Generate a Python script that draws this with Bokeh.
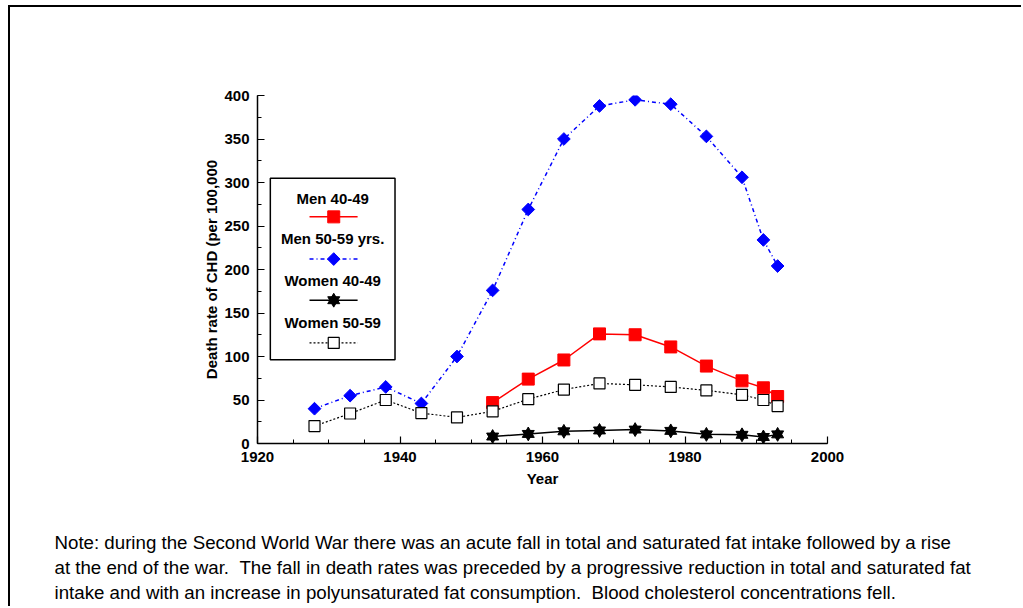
import math
from bokeh.plotting import figure
from bokeh.models import Range1d, SingleIntervalTicker, Title
from bokeh.core.properties import value
from bokeh.embed import file_html
from bokeh.resources import INLINE

# ---- data ----
years_all = [1928, 1933, 1938, 1943, 1948, 1953, 1958, 1963, 1968, 1973, 1978, 1983, 1988, 1991, 1993]
years_late = [1953, 1958, 1963, 1968, 1973, 1978, 1983, 1988, 1991, 1993]
men_40_49 = [47, 74, 96, 126, 125, 111, 89, 72, 64, 54]
men_50_59 = [40, 55, 65, 46, 100, 176, 269, 350, 388, 395, 390, 353, 306, 234, 204]
women_40_49 = [8, 11, 14, 15, 16, 14.5, 10.5, 10, 7.5, 10.5]
women_50_59 = [20, 34.5, 50, 35, 30, 37, 51, 62, 69, 67.5, 65, 61, 56, 50, 43]
legend_labels = ["Men 40-49", "Men 50-59 yrs.", "Women 40-49", "Women 50-59"]
note_lines = [
    "Note: during the Second World War there was an acute fall in total and saturated fat intake followed by a rise",
    "at the end of the war. \u00a0The fall in death rates was preceded by a progressive reduction in total and saturated fat",
    "intake and with an increase in polyunsaturated fat consumption. \u00a0Blood cholesterol concentrations fell.",
]

FONT = "Liberation Sans"

p = figure(width=1013, height=601, output_backend="svg", toolbar_location=None,
           x_range=Range1d(1920, 2000), y_range=Range1d(0, 400),
           min_border_left=247, min_border_right=196, min_border_top=88, min_border_bottom=165)
p.styles = {"margin-left": "8px", "margin-top": "5px",
            "border-left": "2px solid black", "border-top": "2px solid black"}
p.outline_line_color = None
p.grid.visible = False
p.background_fill_color = "white"
p.border_fill_color = "white"

for ax in (p.xaxis[0], p.yaxis[0]):
    ax.axis_line_color = "black"
    ax.axis_line_width = 1.5
    ax.major_tick_line_color = "black"
    ax.minor_tick_line_color = "black"
    ax.major_tick_line_width = 1.2
    ax.minor_tick_line_width = 1.0
    ax.major_tick_in = 7
    ax.major_tick_out = 0
    ax.minor_tick_in = 4
    ax.minor_tick_out = 0
    ax.major_label_text_font = FONT
    ax.major_label_text_font_style = "bold"
    ax.major_label_text_font_size = "15px"
    ax.major_label_text_color = "black"
    ax.axis_label_text_font = FONT
    ax.axis_label_text_font_style = "bold"
    ax.axis_label_text_font_size = "15px"
    ax.axis_label_text_color = "black"

p.xaxis.ticker = SingleIntervalTicker(interval=20, num_minor_ticks=4)
p.yaxis.ticker = SingleIntervalTicker(interval=50, num_minor_ticks=2)
p.xaxis.axis_label = "Year"
p.yaxis.axis_label = "Death rate of CHD (per 100,000"
p.xaxis.major_label_standoff = 8
p.yaxis.major_label_standoff = 8
p.xaxis.axis_label_standoff = 5
p.yaxis.axis_label_standoff = 1

DIAMOND_ANGLE = math.pi / 4

def hexstar(x, y, size):
    p.scatter(x, y, marker="triangle", size=size, fill_color="black", line_color="black")
    p.scatter(x, y, marker="inverted_triangle", size=size, fill_color="black", line_color="black")

# ---- series ----
BLUE_DASH = "4 3 1 3"
p.line(years_all, men_50_59, line_color="blue", line_width=1.5, line_dash=BLUE_DASH)
p.scatter(years_all, men_50_59, marker="square", size=9, angle=DIAMOND_ANGLE,
          fill_color="blue", line_color="blue")

p.line(years_late, men_40_49, line_color="red", line_width=1.5)
p.scatter(years_late, men_40_49, marker="square", size=12, fill_color="red", line_color="red")

p.line(years_all, women_50_59, line_color="black", line_width=1.2, line_dash="2 2")
p.scatter(years_all, women_50_59, marker="square", size=11, fill_color="white", line_color="black", line_width=1.2)

p.line(years_late, women_40_49, line_color="black", line_width=1.5)
hexstar(years_late, women_40_49, 12)

# ---- legend (drawn by hand: label above sample) ----
lx0, lx1, ly0, ly1 = 1921.8, 1939.3, 96.3, 305.0
lcx = (lx0 + lx1) / 2
p.quad(left=[lx0], right=[lx1], bottom=[ly0], top=[ly1], fill_color="white",
       line_color="black", line_width=1.5)
text_y = [282, 235.6, 187.7, 138.6]
sample_y = [260.5, 212, 164.7, 115.6]
sx0, sx1, scx = 1927.3, 1934.05, 1930.7
p.text([lcx] * 4, text_y, text=legend_labels, text_align="center", text_baseline="middle",
       text_font=value(FONT), text_font_style="bold", text_font_size="15px", text_color="black")
p.line([sx0, sx1], [sample_y[0]] * 2, line_color="red", line_width=1.5)
p.scatter([scx], [sample_y[0]], marker="square", size=12, fill_color="red", line_color="red")
p.line([sx0, sx1], [sample_y[1]] * 2, line_color="blue", line_width=1.5, line_dash=BLUE_DASH)
p.scatter([scx], [sample_y[1]], marker="square", size=9, angle=DIAMOND_ANGLE,
          fill_color="blue", line_color="blue")
p.line([sx0, sx1], [sample_y[2]] * 2, line_color="black", line_width=1.5)
hexstar([scx], [sample_y[2]], 12)
p.line([sx0, sx1], [sample_y[3]] * 2, line_color="black", line_width=1.2, line_dash="2 2")
p.scatter([scx], [sample_y[3]], marker="square", size=11, fill_color="white", line_color="black", line_width=1.2)

# ---- note (as titles below the plot) ----
p.add_layout(Title(text=" ", text_font_size="1px", standoff=36), "below")
for i, line in enumerate(note_lines):
    t = Title(text=line, align="left", offset=-203, standoff=2,
              text_font=FONT, text_font_size="18.7px", text_font_style="normal",
              text_color="black")
    p.add_layout(t, "below")

open("out.html", "w").write(file_html(p, INLINE))
